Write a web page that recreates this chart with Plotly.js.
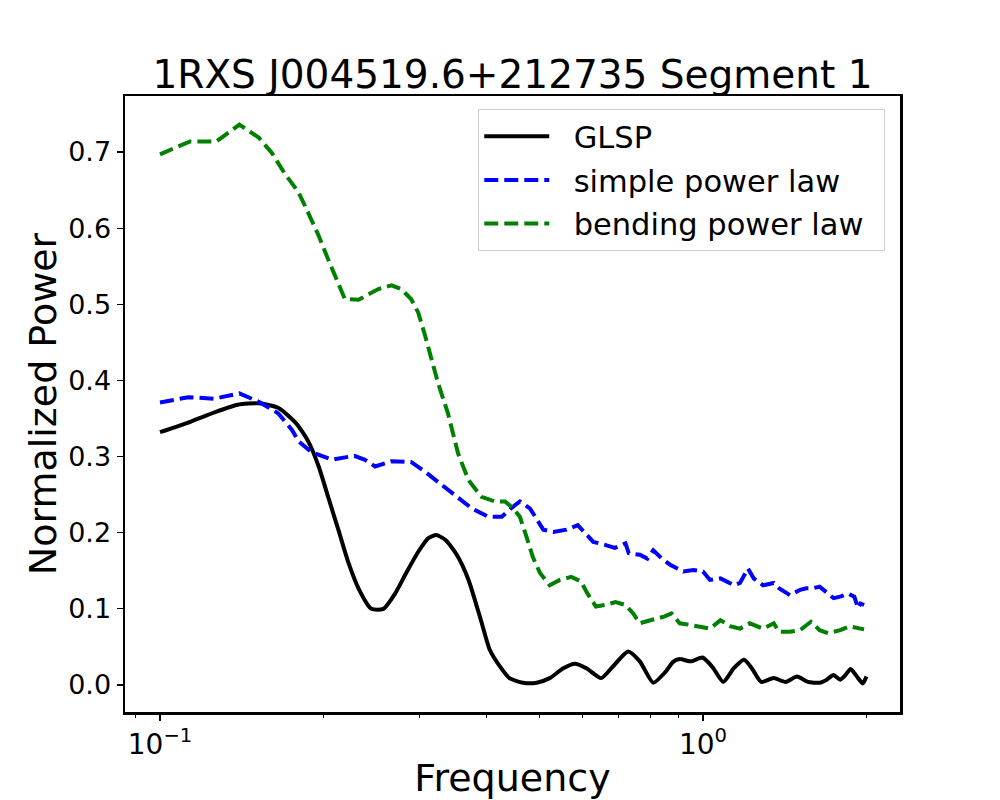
<!DOCTYPE html>
<html>
<head>
<meta charset="utf-8">
<script src="https://cdn.plot.ly/plotly-3.0.1.min.js"></script>
<style>html,body{margin:0;padding:0;background:#fff;}</style>
</head>
<body>
<div id="chart" style="width:1000px;height:800px;"></div>
<script>
const chartTitle = "1RXS J004519.6+212735 Segment 1";
const xLabel = "Frequency";
const yLabel = "Normalized Power";
const seriesNames = ["GLSP", "simple power law", "bending power law"];

const freqGLSP = [0.100,0.114,0.126,0.139,0.152,0.165,0.178,0.1875,0.196,0.204,0.213,0.222,0.232,0.245,0.258,0.271,0.285,0.299,0.312,0.323,0.336,0.352,0.370,0.390,0.405,0.423,0.440,0.466,0.494,0.522,0.553,0.581,0.610,0.649,0.682,0.728,0.765,0.810,0.855,0.880,0.906,0.950,0.998,1.040,1.090,1.140,1.190,1.230,1.280,1.350,1.420,1.490,1.560,1.640,1.690,1.740,1.790,1.830,1.870,1.930,1.970,2.000];
const powGLSP = [0.332,0.346,0.358,0.368,0.370,0.364,0.344,0.320,0.287,0.247,0.204,0.162,0.127,0.100,0.100,0.120,0.149,0.175,0.193,0.197,0.190,0.171,0.138,0.085,0.046,0.024,0.009,0.003,0.003,0.009,0.022,0.028,0.022,0.009,0.024,0.044,0.031,0.003,0.018,0.030,0.034,0.031,0.036,0.024,0.004,0.022,0.033,0.022,0.004,0.009,0.004,0.011,0.004,0.003,0.007,0.013,0.007,0.013,0.021,0.009,0.002,0.011];

const freqSPL = [0.100,0.1127,0.126,0.140,0.152,0.165,0.175,0.180,0.190,0.207,0.228,0.238,0.249,0.267,0.290,0.308,0.330,0.349,0.375,0.402,0.426,0.443,0.460,0.480,0.494,0.508,0.530,0.561,0.588,0.610,0.628,0.660,0.688,0.720,0.730,0.765,0.790,0.810,0.840,0.870,0.920,0.960,1.000,1.030,1.077,1.140,1.170,1.210,1.240,1.290,1.350,1.380,1.446,1.510,1.550,1.590,1.640,1.700,1.740,1.790,1.850,1.900,1.930,1.950,1.980];
const powSPL = [0.371,0.378,0.376,0.383,0.372,0.357,0.335,0.320,0.306,0.296,0.301,0.296,0.287,0.294,0.293,0.280,0.263,0.250,0.232,0.221,0.221,0.232,0.241,0.232,0.217,0.204,0.201,0.204,0.210,0.197,0.188,0.184,0.180,0.186,0.173,0.171,0.166,0.177,0.166,0.158,0.149,0.151,0.149,0.138,0.140,0.131,0.134,0.153,0.140,0.131,0.134,0.127,0.118,0.125,0.127,0.127,0.129,0.120,0.114,0.116,0.120,0.116,0.101,0.107,0.105];

const freqBPL = [0.100,0.1136,0.127,0.140,0.152,0.1606,0.170,0.180,0.1875,0.196,0.204,0.213,0.219,0.232,0.2525,0.267,0.278,0.290,0.299,0.308,0.316,0.325,0.339,0.354,0.370,0.391,0.414,0.432,0.447,0.460,0.473,0.486,0.501,0.522,0.545,0.572,0.596,0.613,0.635,0.660,0.690,0.720,0.744,0.765,0.800,0.850,0.875,0.906,0.945,0.990,1.030,1.077,1.125,1.170,1.220,1.290,1.350,1.380,1.446,1.510,1.580,1.640,1.700,1.790,1.860,1.950,1.980];
const powBPL = [0.697,0.714,0.714,0.736,0.719,0.699,0.671,0.647,0.620,0.590,0.559,0.528,0.507,0.506,0.520,0.525,0.520,0.507,0.489,0.458,0.428,0.397,0.357,0.304,0.269,0.247,0.241,0.241,0.232,0.221,0.195,0.168,0.147,0.131,0.138,0.142,0.136,0.120,0.103,0.105,0.109,0.105,0.094,0.081,0.085,0.090,0.094,0.081,0.079,0.077,0.074,0.085,0.077,0.074,0.081,0.074,0.081,0.070,0.070,0.072,0.083,0.072,0.068,0.072,0.077,0.074,0.073];

const xTickVals = [0.1, 1];
const xTickText = ["10<sup>\u22121</sup>", "10<sup>0</sup>"];
const xMinorVals = [0.09, 0.2, 0.3, 0.4, 0.5, 0.6, 0.7, 0.8, 0.9, 2];
const yTickVals = [0.0, 0.1, 0.2, 0.3, 0.4, 0.5, 0.6, 0.7];

const FONT = "DejaVu Sans, Liberation Sans, sans-serif";
const GAP = "\u00a0\u00a0";
const TAIL = "\u00a0\u2009";

const traces = [
  {x: freqGLSP, y: powGLSP, name: GAP + seriesNames[0] + TAIL, legendgroup: "g1", type: "scatter", mode: "lines",
   line: {color: "#000000", width: 4, shape: "spline", smoothing: 0.6}},
  {x: freqSPL, y: powSPL, name: GAP + seriesNames[1] + TAIL, legendgroup: "g2", type: "scatter", mode: "lines",
   line: {color: "#0000ff", width: 4, dash: "14px,6px"}},
  {x: freqBPL, y: powBPL, name: GAP + seriesNames[2] + TAIL, legendgroup: "g3", type: "scatter", mode: "lines",
   line: {color: "#008000", width: 4, dash: "14px,6px"}}
];

const layout = {
  width: 1000, height: 800,
  paper_bgcolor: "#ffffff", plot_bgcolor: "#ffffff",
  margin: {l: 125, r: 100, t: 96, b: 88, pad: 0},
  font: {family: FONT, color: "#000000", size: 27},
  title: {text: chartTitle, font: {family: FONT, size: 39, color: "#000000"},
          x: 0.5, xref: "paper", xanchor: "center", y: 1, yref: "paper", yanchor: "bottom", pad: {b: 8}},
  xaxis: {
    type: "log", range: [Math.log10(0.0862), Math.log10(2.306)],
    tickmode: "array", tickvals: xTickVals, ticktext: xTickText,
    ticks: "outside", ticklen: 6, tickwidth: 1.2, tickcolor: "#000",
    tickfont: {family: FONT, size: 28, color: "#000"},
    minor: {tickmode: "array", tickvals: xMinorVals, ticks: "outside", ticklen: 3.5, tickwidth: 1, tickcolor: "#000", showgrid: false},
    showline: true, linecolor: "#000", linewidth: 2.5, mirror: true,
    showgrid: false, zeroline: false,
    title: {text: xLabel, font: {family: FONT, size: 38, color: "#000"}, standoff: 6}
  },
  yaxis: {
    range: [-0.0355, 0.7736],
    tickmode: "array", tickvals: yTickVals, tickformat: ".1f",
    ticks: "outside", ticklen: 6, tickwidth: 1.2, tickcolor: "#000",
    tickfont: {family: FONT, size: 27, color: "#000"},
    showline: true, linecolor: "#000", linewidth: 2.5, mirror: true,
    showgrid: false, zeroline: false,
    title: {text: yLabel, font: {family: FONT, size: 38, color: "#000"}, standoff: 0}
  },
  showlegend: true,
  legend: {x: 0.981, y: 0.979, xanchor: "right", yanchor: "top",
           traceorder: "grouped", tracegroupgap: 1,
           bgcolor: "rgba(255,255,255,0.85)", bordercolor: "#d0d0d0", borderwidth: 1,
           font: {family: FONT, size: 30.5, color: "#000"}, itemwidth: 65}
};

Plotly.newPlot("chart", traces, layout, {staticPlot: true, displayModeBar: false});
</script>
</body>
</html>
